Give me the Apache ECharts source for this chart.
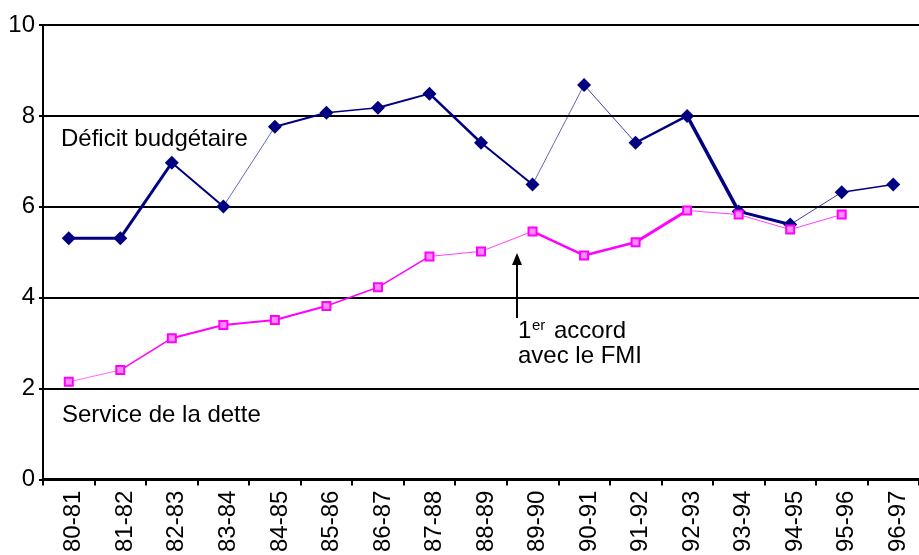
<!DOCTYPE html>
<html>
<head>
<meta charset="utf-8">
<script src="https://cdn.jsdelivr.net/npm/echarts@6/dist/echarts.min.js"></script>
<style>
  html, body { margin: 0; padding: 0; background: #fff; }
  #chart { width: 919px; height: 555px; }
</style>
</head>
<body>
<div id="chart"></div>
<script>
// Fiscal years
const categories = ['80-81','81-82','82-83','83-84','84-85','85-86','86-87','87-88','88-89',
                    '89-90','90-91','91-92','92-93','93-94','94-95','95-96','96-97'];
// Déficit budgétaire (% du PIB)
const deficit = [5.31, 5.31, 6.97, 6.01, 7.76, 8.07, 8.18, 8.49, 7.41,
                 6.49, 8.68, 7.41, 8.0, 5.9, 5.61, 6.32, 6.49];
// Service de la dette (% du PIB)
const service = [2.15, 2.41, 3.11, 3.40, 3.51, 3.82, 4.23, 4.91, 5.02,
                 5.46, 4.93, 5.22, 5.92, 5.83, 5.50, 5.83, null];
const yTicks = [0, 2, 4, 6, 8, 10];

// Stroke width of each segment between consecutive years
const deficitWidths = [3, 3, 2, 0.8, 2, 1.5, 2, 2.5, 2, 0.8, 1, 2.5, 3.5, 3, 1, 1.5];
const serviceWidths = [0.8, 1.5, 2, 2, 2, 1.5, 1.5, 1, 1, 2.5, 2.5, 3, 1, 1, 1];

const NAVY = '#000080';
const MAGENTA = '#ff00ff';
const FONT = '"Liberation Sans", Arial, sans-serif';

function segmentSeries(values, widths, color) {
  const out = [];
  for (let i = 0; i < values.length - 1; i++) {
    if (values[i] == null || values[i + 1] == null) continue;
    const w = widths[i];
    out.push({
      type: 'line',
      data: values.map((v, j) => (j === i || j === i + 1) ? v : '-'),
      symbol: 'none',
      silent: true,
      z: 3,
      lineStyle: { color: color, width: w, opacity: w < 1.2 ? 0.75 : 1 }
    });
  }
  return out;
}

const chart = echarts.init(document.getElementById('chart'), null, { renderer: 'canvas' });

chart.setOption({
  animation: false,
  backgroundColor: '#fff',
  textStyle: { fontFamily: FONT },
  grid: { left: 43, top: 25, width: 886, height: 456 },
  xAxis: {
    type: 'category',
    data: categories,
    boundaryGap: true,
    axisLine: { lineStyle: { color: '#000', width: 3 } },
    axisTick: { show: true, interval: 0, length: 6, lineStyle: { color: '#000', width: 2 } },
    axisLabel: { interval: 0, rotate: 90, fontSize: 24, color: '#000', margin: 11,
                 verticalAlign: 'top', lineHeight: 10, fontFamily: FONT },
    splitLine: { show: false }
  },
  yAxis: {
    type: 'value',
    min: yTicks[0],
    max: yTicks[yTicks.length - 1],
    interval: yTicks[1] - yTicks[0],
    axisLine: { show: true, lineStyle: { color: '#000', width: 2 } },
    axisTick: { show: true, length: 4, lineStyle: { color: '#000', width: 2 } },
    axisLabel: { fontSize: 24, color: '#000', margin: 8, fontFamily: FONT },
    splitLine: { show: true, lineStyle: { color: '#000', width: 2 } }
  },
  series: [
    ...segmentSeries(deficit, deficitWidths, NAVY),
    ...segmentSeries(service, serviceWidths, MAGENTA),
    {
      name: 'Déficit budgétaire',
      type: 'scatter',
      data: deficit,
      symbol: 'diamond',
      symbolSize: 14,
      z: 5,
      itemStyle: { color: NAVY, opacity: 1 }
    },
    {
      name: 'Service de la dette',
      type: 'scatter',
      data: service.map(v => v == null ? '-' : v),
      symbol: 'rect',
      symbolSize: 8,
      z: 5,
      itemStyle: { color: '#ff8cff', borderColor: MAGENTA, borderWidth: 2, opacity: 1 }
    }
  ],
  graphic: [
    { type: 'text', x: 61, y: 139, z: 10,
      style: { text: 'Déficit budgétaire', font: '24px ' + FONT, fill: '#000', verticalAlign: 'middle' } },
    { type: 'text', x: 62, y: 415, z: 10,
      style: { text: 'Service de la dette', font: '24px ' + FONT, fill: '#000', verticalAlign: 'middle' } },
    { type: 'text', x: 518, y: 331, z: 10,
      style: { text: '1', font: '24px ' + FONT, fill: '#000', verticalAlign: 'middle' } },
    { type: 'text', x: 532, y: 326, z: 10,
      style: { text: 'er', font: '15px ' + FONT, fill: '#000', verticalAlign: 'middle' } },
    { type: 'text', x: 554, y: 331, z: 10,
      style: { text: 'accord', font: '24px ' + FONT, fill: '#000', verticalAlign: 'middle' } },
    { type: 'text', x: 518, y: 356, z: 10,
      style: { text: 'avec le FMI', font: '24px ' + FONT, fill: '#000', verticalAlign: 'middle' } },
    { type: 'line', z: 10,
      shape: { x1: 517, y1: 318, x2: 517, y2: 262 },
      style: { stroke: '#000', lineWidth: 2 } },
    { type: 'polygon', z: 10,
      shape: { points: [[517, 253], [512, 265], [522, 265]] },
      style: { fill: '#000' } }
  ]
});
</script>
</body>
</html>
